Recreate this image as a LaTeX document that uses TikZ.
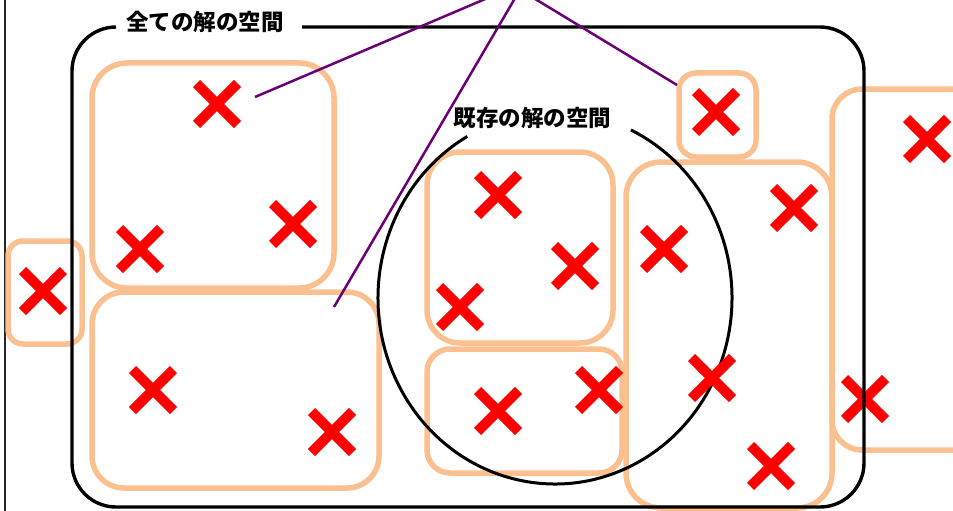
\documentclass[tikz,border=0pt]{standalone}
\usepackage{fontspec}
\newfontfamily\cjk{Noto Sans CJK JP}
\definecolor{grporange}{RGB}{250,192,144}
\definecolor{callout}{RGB}{105,0,115}
\tikzset{
  grp/.style={draw=grporange, line width=5.5pt, rounded corners=#1},
  grp/.default=30pt,
  bigline/.style={draw=black, line width=3.4pt},
  circline/.style={draw=black, line width=3pt},
  edgeline/.style={draw=black!85, line width=2.5pt},
  calloutline/.style={draw=callout, line width=2.5pt},
  lbl/.style={font=\cjk\bfseries\fontsize{22.5}{27}\selectfont, inner sep=0pt, text=black},
  xmark/.pic={\draw[red, line width=10pt] (-20.5,-20.5) -- (20.5,20.5) (20.5,-20.5) -- (-20.5,20.5);}
}
\begin{document}
\begin{tikzpicture}[x=1pt,y=-1pt]
\useasboundingbox (0,0) rectangle (953,511);
% left edge line
\draw[edgeline] (5,-5) -- (5,520);
% groups
\draw[grp=35pt] (92,63) rectangle (334,288);
\draw[grp=32pt] (92,292) rectangle (379,488);
\draw[grp=15pt] (8,241) rectangle (82,344);
\draw[grp=33pt] (427,152) rectangle (613,343);
\draw[grp=23pt] (427,349) rectangle (622,473);
\draw[grp=17pt] (679,73) rectangle (756,157);
\draw[grp=35pt] (626,162) rectangle (832,508);
\draw[grp=30pt] (832,89) rectangle (990,450);
% existing solution space
\draw[circline] (555,298) ++(240.3:177 and 186) arc[start angle=240.3, end angle=-64.6, x radius=177, y radius=186];
% solutions
\foreach \p in {(217,104),(140,249),(293,224),(153,390),(332,432),(43,291),
  (498,195),(575,266),(460,307),(498,411),(599,390),(716,112),(664,249),
  (794,208),(712,378),(771,466),(927,139),(865,399)}
  \pic at \p {xmark};
% all solution space
\draw[bigline, rounded corners=44pt] (302,27) -- (864,27) -- (864,507) -- (72,507) -- (72,27) -- (116,27);
% labels
\node[lbl] (all) at (205,22) {全ての解の空間};
\node[lbl] (exist) at (532.5,118) {既存の解の空間};
% callout lines
\coordinate (a1) at (255,97);
\coordinate (a2) at (334,307);
\coordinate (a3) at (677,85);
\coordinate (e1) at (497,-6);
\coordinate (e2) at (517.5,-6);
\coordinate (e3) at (527,-6);
\draw[calloutline] (a1) -- (e1);
\draw[calloutline] (a2) -- (e2);
\draw[calloutline] (a3) -- (e3);
\end{tikzpicture}
\end{document}
